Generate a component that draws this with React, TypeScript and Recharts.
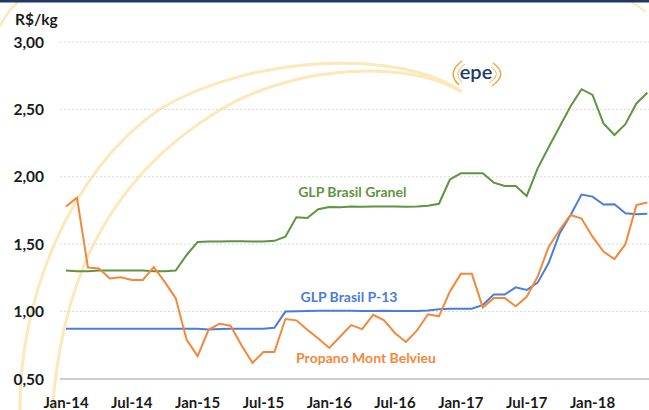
import React from 'react';
import { LineChart, Line, XAxis, YAxis, CartesianGrid, ReferenceDot } from 'recharts';

const months = [
  'Jan-14','Feb-14','Mar-14','Apr-14','May-14','Jun-14','Jul-14','Aug-14','Sep-14','Oct-14','Nov-14','Dec-14',
  'Jan-15','Feb-15','Mar-15','Apr-15','May-15','Jun-15','Jul-15','Aug-15','Sep-15','Oct-15','Nov-15','Dec-15',
  'Jan-16','Feb-16','Mar-16','Apr-16','May-16','Jun-16','Jul-16','Aug-16','Sep-16','Oct-16','Nov-16','Dec-16',
  'Jan-17','Feb-17','Mar-17','Apr-17','May-17','Jun-17','Jul-17','Aug-17','Sep-17','Oct-17','Nov-17','Dec-17',
  'Jan-18','Feb-18','Mar-18','Apr-18','May-18','Jun-18',
];

const granel = [
  1.305, 1.30, 1.30, 1.305, 1.305, 1.305, 1.305, 1.305, 1.30, 1.30, 1.305, 1.42,
  1.517, 1.52, 1.52, 1.522, 1.522, 1.52, 1.52, 1.525, 1.556, 1.70, 1.695, 1.76,
  1.776, 1.775, 1.78, 1.778, 1.78, 1.78, 1.78, 1.778, 1.78, 1.786, 1.80, 1.98,
  2.026, 2.026, 2.026, 1.957, 1.932, 1.932, 1.858, 2.063, 2.219, 2.371, 2.524, 2.65,
  2.608, 2.396, 2.31, 2.39, 2.544, 2.623,
];

const p13 = [
  0.873, 0.873, 0.873, 0.873, 0.873, 0.873, 0.873, 0.873, 0.873, 0.873, 0.873, 0.873,
  0.873, 0.868, 0.87, 0.872, 0.873, 0.873, 0.873, 0.88, 1.0, 1.003, 1.005, 1.006,
  1.007, 1.007, 1.006, 1.005, 1.005, 1.006, 1.005, 1.004, 1.004, 1.008, 1.018, 1.022,
  1.022, 1.022, 1.05, 1.127, 1.127, 1.18, 1.16, 1.215, 1.36, 1.58, 1.717, 1.868,
  1.853, 1.794, 1.797, 1.73, 1.722, 1.725,
];

const propano = [
  1.78, 1.845, 1.327, 1.32, 1.245, 1.255, 1.235, 1.235, 1.33, 1.22, 1.10, 0.79,
  0.67, 0.865, 0.91, 0.895, 0.75, 0.62, 0.70, 0.70, 0.945, 0.935, 0.865, 0.80,
  0.73, 0.815, 0.90, 0.87, 0.976, 0.935, 0.84, 0.775, 0.86, 0.98, 0.965, 1.15,
  1.28, 1.28, 1.03, 1.10, 1.10, 1.04, 1.11, 1.26, 1.48, 1.605, 1.717, 1.69,
  1.556, 1.445, 1.39, 1.50, 1.79, 1.81,
];

const xTickLabels = ['Jan-14','Jul-14','Jan-15','Jul-15','Jan-16','Jul-16','Jan-17','Jul-17','Jan-18'];
const yTicks = [0.5, 1.0, 1.5, 2.0, 2.5, 3.0];

const seriesNames = {
  granel: 'GLP Brasil Granel',
  p13: 'GLP Brasil P-13',
  propano: 'Propano Mont Belvieu',
};

const data = months.map((m, i) => ({
  i,
  m,
  granel: granel[i],
  p13: p13[i],
  propano: propano[i],
}));

const xTicks = xTickLabels.map((l) => months.indexOf(l));

const W = 649;
const H = 410;
const GREEN = '#5F9440';
const BLUE = '#4A7DD8';
const ORANGE = '#F4883A';
const ARC = '#FCE8B8';

export default function App() {
  return (
    <div
      style={{
        position: 'absolute',
        left: 0,
        top: 0,
        width: W,
        height: H,
        overflow: 'hidden',
        background: '#ffffff',
        fontFamily: 'Lato, "Open Sans", sans-serif',
      }}
    >
      <svg width={W} height={H} style={{ position: 'absolute', left: 0, top: 0 }}>
        <path d="M 20 414 C 18 300, 70 170, 160 109 C 250 55, 400 48, 462 92" fill="none" stroke={ARC} strokeWidth={3} />
        <path d="M 52 414 C 60 300, 95 185, 220 110 C 300 62, 410 62, 458 90" fill="none" stroke={ARC} strokeWidth={3} />
        <path d="M 0 26 Q 8 10 20 0" fill="none" stroke={ARC} strokeWidth={2.5} />
        <path d="M 628 0 Q 637 5 646 12" fill="none" stroke={ARC} strokeWidth={2} />
      </svg>
      <div style={{ position: 'absolute', left: 0, top: 0 }}>
        <LineChart width={W} height={H} data={data} margin={{ top: 42, right: 0, bottom: 0, left: 0 }}>
          <CartesianGrid horizontal vertical={false} stroke="#d9d9d9" strokeDasharray="2 2" />
          <XAxis
            dataKey="i"
            type="number"
            domain={[-0.547, 53.15]}
            allowDataOverflow
            ticks={xTicks}
            tickFormatter={(v) => months[v]}
            height={31}
            tickLine={false}
            axisLine={{ stroke: '#bfbfbf', strokeWidth: 1.5 }}
            tickSize={6}
            tickMargin={12}
            tick={{ fill: '#1a1a1a', fontSize: 15, fontWeight: 700 }}
            interval={0}
          />
          <YAxis
            type="number"
            domain={[0.5, 3.0]}
            ticks={yTicks}
            width={60}
            tickLine={false}
            axisLine={false}
            tickSize={6}
            tickMargin={10}
            tickFormatter={(v) => v.toFixed(2).replace('.', ',')}
            tick={{ fill: '#1a1a1a', fontSize: 15.5, fontWeight: 700 }}
            interval={0}
          />
          <Line type="linear" dataKey="granel" name={seriesNames.granel} stroke={GREEN} strokeWidth={2} dot={false} isAnimationActive={false} />
          <Line type="linear" dataKey="p13" name={seriesNames.p13} stroke={BLUE} strokeWidth={2} dot={false} isAnimationActive={false} />
          <Line type="linear" dataKey="propano" name={seriesNames.propano} stroke={ORANGE} strokeWidth={2} dot={false} isAnimationActive={false} />
          <ReferenceDot
            x={26.1}
            y={1.884}
            r={0}
            fill="none"
            stroke="none"
            label={{ value: seriesNames.granel, position: 'center', fill: GREEN, fontSize: 14, fontWeight: 700 }}
          />
          <ReferenceDot
            x={25.8}
            y={1.106}
            r={0}
            fill="none"
            stroke="none"
            label={{ value: seriesNames.p13, position: 'center', fill: BLUE, fontSize: 14, fontWeight: 700 }}
          />
          <ReferenceDot
            x={27.35}
            y={0.654}
            r={0}
            fill="none"
            stroke="none"
            label={{ value: seriesNames.propano, position: 'center', fill: ORANGE, fontSize: 14, fontWeight: 700 }}
          />
        </LineChart>
      </div>
      <svg width={W} height={H} style={{ position: 'absolute', left: 0, top: 0, pointerEvents: 'none' }}>
        <rect x={0} y={0} width={W} height={2.5} fill="#1F3864" />
        <text x={15} y={25} fontSize={15.5} fontWeight={700} fill="#1a1a1a">R$/kg</text>
        <path d="M 462 61 Q 446 73 459 85" fill="none" stroke="#F2A33A" strokeWidth={1.5} />
        <path d="M 465 64 Q 452 73 462 82" fill="none" stroke="#F5B95E" strokeWidth={1} />
        <path d="M 493 63 Q 509 74 492 86" fill="none" stroke="#F2A33A" strokeWidth={1.5} />
        <path d="M 491 67 Q 503 74 489 83" fill="none" stroke="#F5B95E" strokeWidth={1} />
        <text x={476} y={79} fontSize={20} fontWeight={600} fill="#1E3A6E" textAnchor="middle">epe</text>
      </svg>
    </div>
  );
}
